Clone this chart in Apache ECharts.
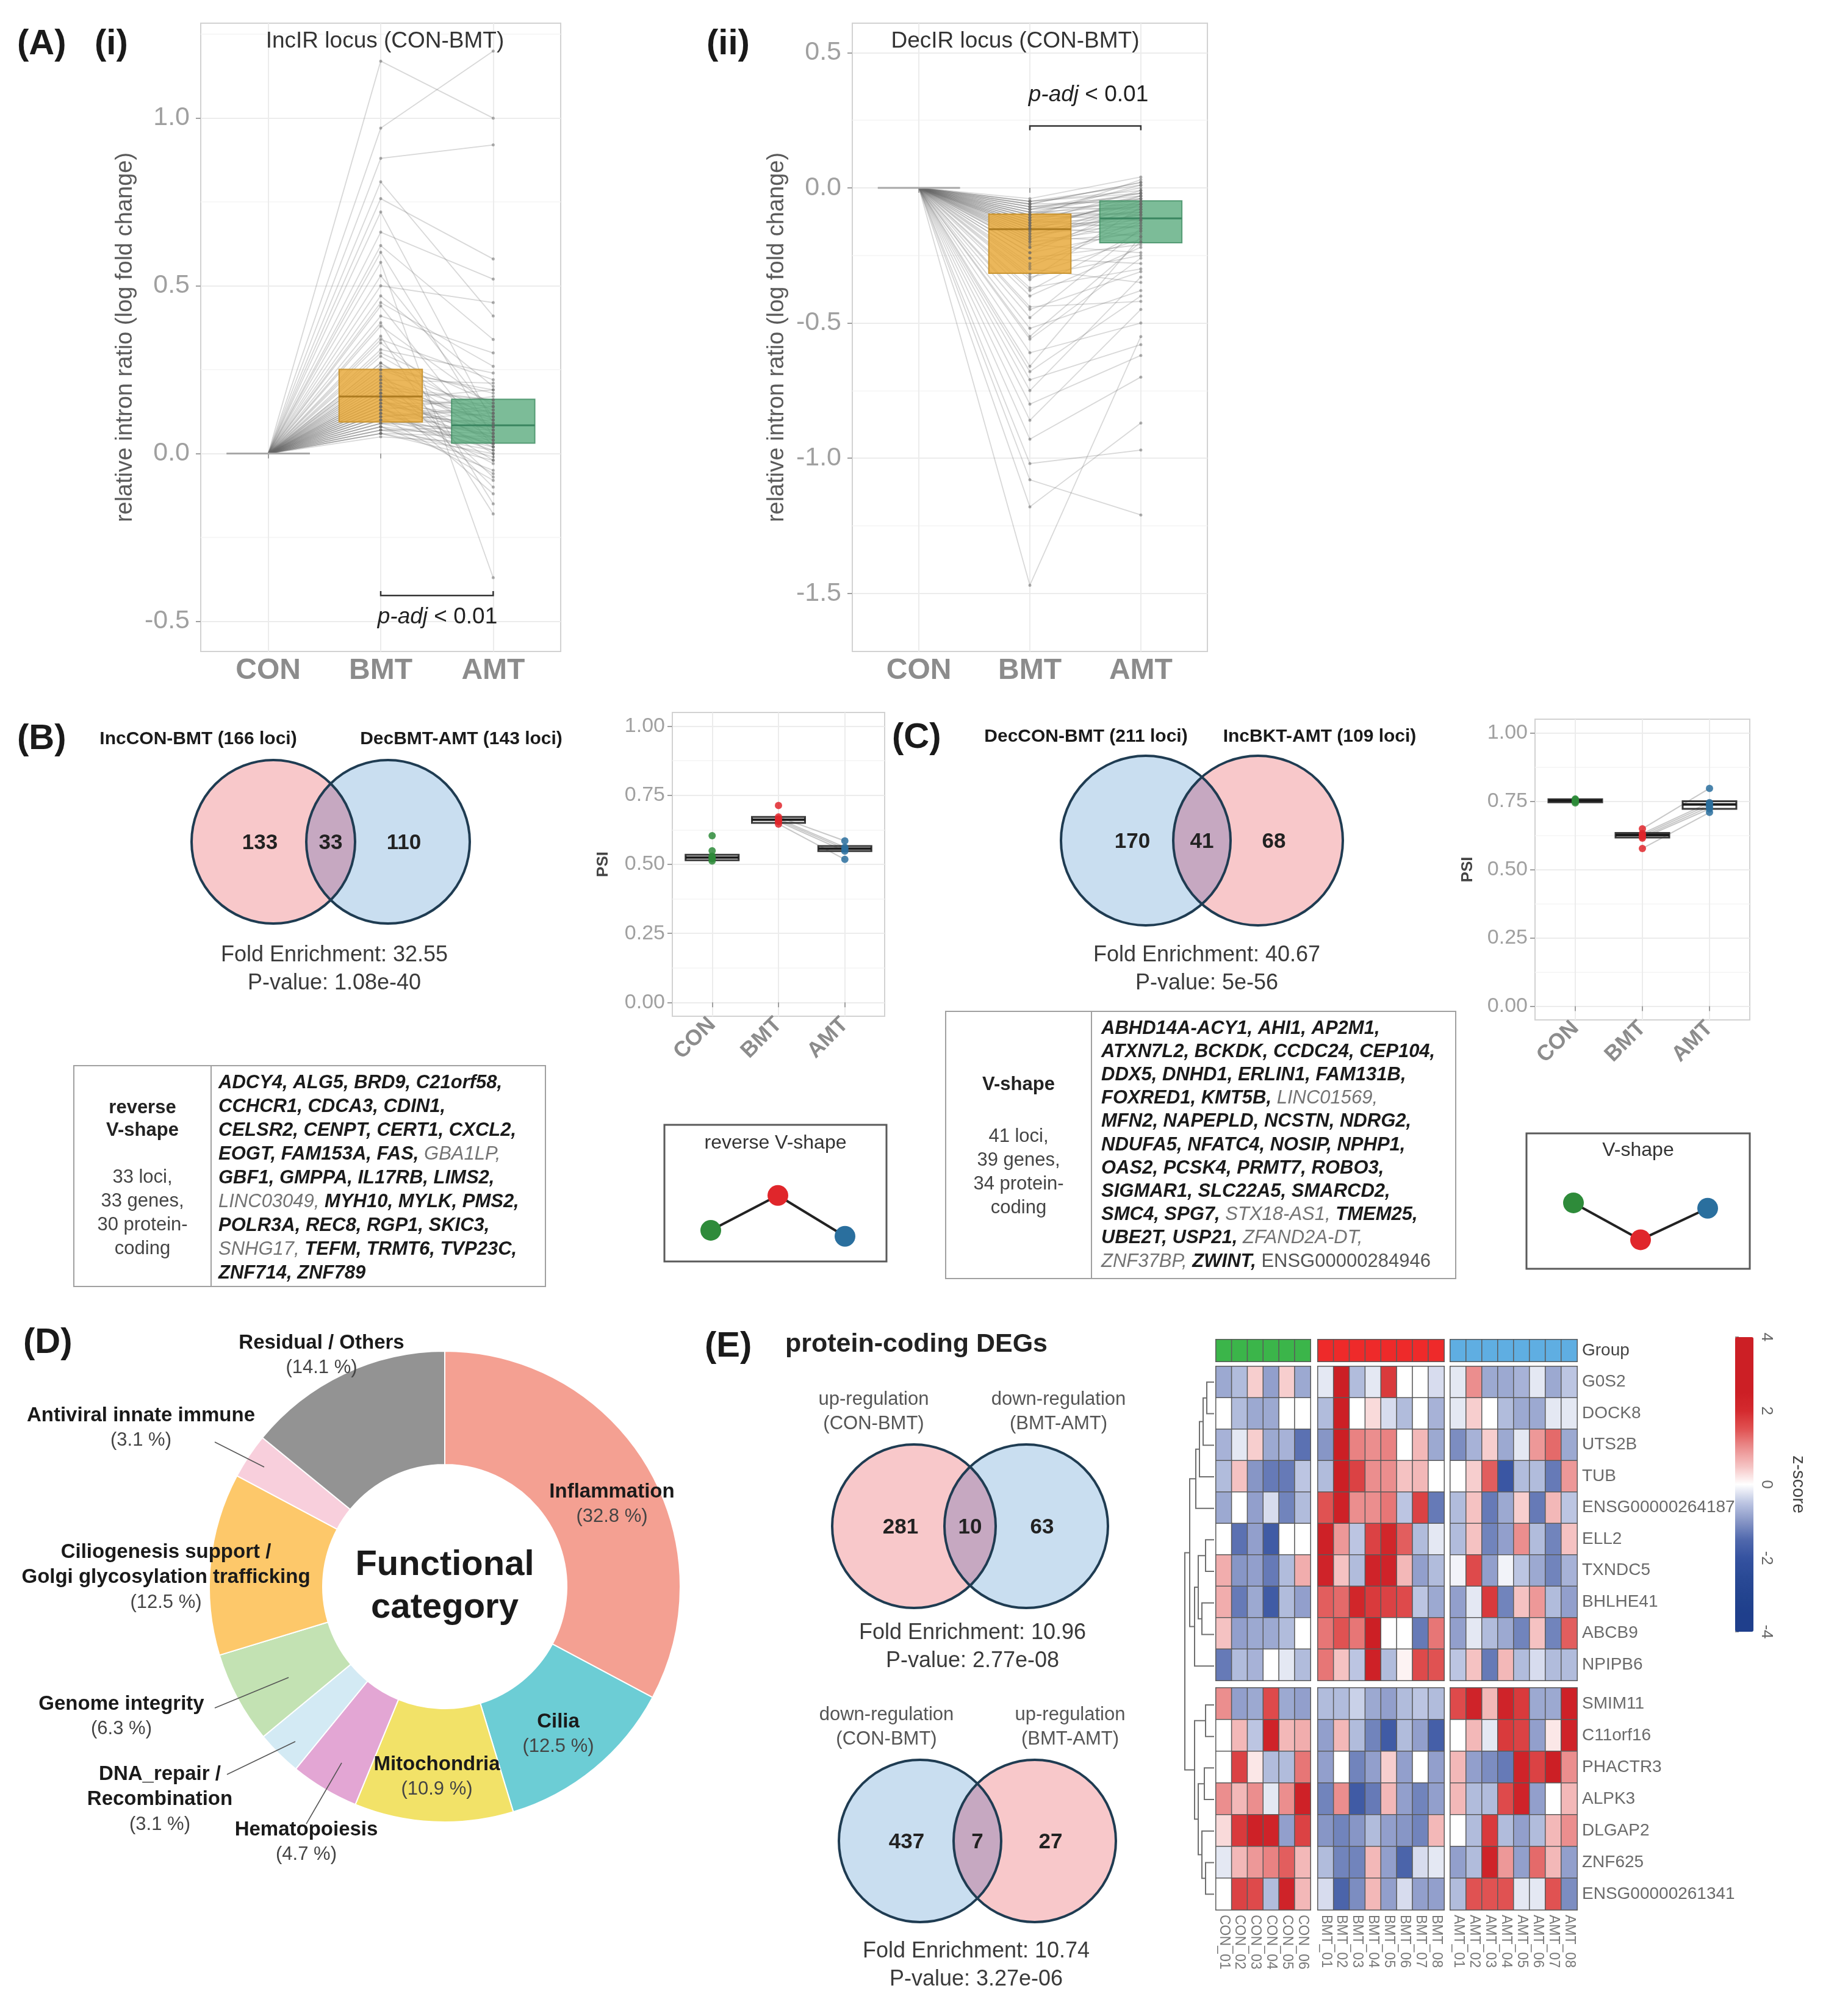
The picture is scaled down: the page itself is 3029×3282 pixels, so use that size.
<!DOCTYPE html>
<html>
<head>
<meta charset="utf-8">
<title>IR loci figure</title>
<script src="https://cdn.jsdelivr.net/npm/echarts@6.0.0/dist/echarts.min.js"></script>
<style>
  html, body { margin: 0; padding: 0; background: #fff; }
  #chart { width: 3029px; height: 3282px; }
</style>
</head>
<body>
<div id="chart"></div>
<script>
const FONT = 'Liberation Sans, Arial, Helvetica, sans-serif';
const groups = ['CON', 'BMT', 'AMT'];

// (A)(i) IncIR loci: relative intron ratio at BMT and AMT (CON = 0)
const incBMT = [0.05, 0.06, 0.06, 0.07, 0.07, 0.08, 0.08, 0.09, 0.09, 0.10,
  0.10, 0.11, 0.11, 0.12, 0.12, 0.13, 0.13, 0.14, 0.14, 0.15,
  0.15, 0.16, 0.16, 0.17, 0.17, 0.18, 0.18, 0.19, 0.20, 0.21,
  0.22, 0.23, 0.24, 0.25, 0.26, 0.27, 0.29, 0.31, 0.33, 0.35,
  0.38, 0.41, 0.44, 0.47, 0.50, 0.53, 0.57, 0.62, 0.66, 0.72,
  0.76, 0.81, 0.88, 0.97, 1.17,
  0.06, 0.07, 0.08, 0.09, 0.10, 0.11, 0.12, 0.13, 0.14, 0.15,
  0.16, 0.17, 0.18, 0.19, 0.20, 0.21, 0.22, 0.23, 0.25, 0.27,
  0.30, 0.34, 0.39, 0.45, 0.60];
const incAMT = [0.03, -0.02, 0.05, 0.01, 0.08, 0.04, -0.05, 0.10, 0.02, 0.12,
  0.06, -0.08, 0.14, 0.03, 0.09, 0.17, 0.05, -0.03, 0.11, 0.07,
  0.15, 0.02, 0.19, 0.08, -0.12, 0.12, 0.04, 0.16, 0.00, 0.09,
  0.21, 0.06, -0.07, 0.13, 0.18, 0.04, 0.10, 0.24, 0.07, -0.18,
  0.14, 0.30, 0.02, 0.20, 0.45, 0.11, -0.37, 0.34, 0.52, 0.09,
  0.58, 0.41, 0.92, 1.20, 1.00,
  0.00, 0.06, -0.01, 0.07, 0.03, 0.13, 0.01, 0.08, -0.06, 0.11,
  0.05, 0.14, -0.02, 0.10, 0.16, 0.03, 0.12, -0.10, 0.19, 0.08,
  0.15, 0.22, -0.15, 0.26, 0.05];
// box stats [x, q1, median, q3]
const incBox = [[1, 0, 0, 0], [2, 0.094, 0.170, 0.251], [3, 0.031, 0.084, 0.162]];

// (A)(ii) DecIR loci
const decBMT = [-0.04, -0.05, -0.05, -0.06, -0.06, -0.07, -0.07, -0.08, -0.08, -0.09,
  -0.09, -0.10, -0.10, -0.11, -0.11, -0.12, -0.12, -0.13, -0.13, -0.14,
  -0.14, -0.15, -0.15, -0.16, -0.17, -0.18, -0.19, -0.20, -0.21, -0.22,
  -0.24, -0.26, -0.28, -0.30, -0.32, -0.34, -0.37, -0.40, -0.44, -0.48,
  -0.52, -0.56, -0.61, -0.66, -0.71, -0.75, -0.80, -0.86, -0.93, -1.02,
  -1.08, -1.18, -1.47,
  -0.05, -0.06, -0.07, -0.08, -0.09, -0.10, -0.11, -0.12, -0.13, -0.14,
  -0.15, -0.16, -0.17, -0.18, -0.19, -0.20, -0.22, -0.24, -0.26, -0.29,
  -0.33, -0.38, -0.45, -0.55, -0.68];
const decAMT = [0.04, -0.02, 0.01, -0.05, 0.02, -0.03, -0.08, 0.00, -0.06, -0.10,
  -0.02, -0.04, -0.12, -0.07, 0.03, -0.09, -0.15, -0.01, -0.11, -0.05,
  -0.18, -0.08, -0.13, -0.03, -0.10, -0.20, -0.06, -0.14, -0.24, -0.09,
  -0.16, -0.28, -0.12, -0.35, -0.19, -0.07, -0.30, -0.22, -0.42, -0.15,
  -0.38, -0.26, -0.50, -0.18, -0.58, -0.33, -0.62, -0.45, -0.70, -0.97,
  -1.21, -0.87, -0.55,
  -0.01, 0.02, -0.04, -0.02, -0.07, 0.01, -0.09, -0.03, -0.06, -0.12,
  -0.04, -0.10, -0.14, -0.05, -0.08, -0.17, -0.11, -0.06, -0.21, -0.13,
  -0.25, -0.16, -0.31, -0.20, -0.40];
const decBox = [[1, 0, 0, 0], [2, -0.316, -0.153, -0.097], [3, -0.203, -0.113, -0.048]];

// (B) reverse V-shape example locus, PSI per sample
const revCON = [0.512, 0.520, 0.525, 0.530, 0.549, 0.604];
const revBMT = [0.646, 0.655, 0.660, 0.665, 0.672, 0.713];
const revAMT = [0.518, 0.548, 0.556, 0.562, 0.585];
const revBox = [[1, 0.515, 0.525, 0.535], [2, 0.650, 0.662, 0.672], [3, 0.548, 0.557, 0.566]];
// (C) V-shape example locus
const vCON = [0.744, 0.748, 0.750, 0.753, 0.756, 0.758];
const vBMT = [0.577, 0.615, 0.620, 0.626, 0.632, 0.649];
const vAMT = [0.709, 0.722, 0.730, 0.738, 0.745, 0.797];
const vBox = [[1, 0.746, 0.752, 0.757], [2, 0.617, 0.626, 0.634], [3, 0.722, 0.738, 0.750]];
// pattern sketches
const revShape = [0.21, 0.73, 0.12];
const vShape = [0.71, 0.16, 0.63];

// Venn counts [left only, overlap, right only]
const vennBSets = ['IncCON-BMT (166 loci)', 'DecBMT-AMT (143 loci)'];
const vennBCounts = [133, 33, 110];
const vennBStats = ['32.55', '1.08e-40'];
const vennCSets = ['DecCON-BMT (211 loci)', 'IncBKT-AMT (109 loci)'];
const vennCCounts = [170, 41, 68];
const vennCStats = ['40.67', '5e-56'];
const vennE1Sets = [['up-regulation', '(CON-BMT)'], ['down-regulation', '(BMT-AMT)']];
const vennE1Counts = [281, 10, 63];
const vennE1Stats = ['10.96', '2.77e-08'];
const vennE2Sets = [['down-regulation', '(CON-BMT)'], ['up-regulation', '(BMT-AMT)']];
const vennE2Counts = [437, 7, 27];
const vennE2Stats = ['10.74', '3.27e-06'];

// gene tables
const tableB = [
  ['ADCY4', 'ALG5', 'BRD9', 'C21orf58'],
  ['CCHCR1', 'CDCA3', 'CDIN1'],
  ['CELSR2', 'CENPT', 'CERT1', 'CXCL2'],
  ['EOGT', 'FAM153A', 'FAS', 'GBA1LP'],
  ['GBF1', 'GMPPA', 'IL17RB', 'LIMS2'],
  ['LINC03049', 'MYH10', 'MYLK', 'PMS2'],
  ['POLR3A', 'REC8', 'RGP1', 'SKIC3'],
  ['SNHG17', 'TEFM', 'TRMT6', 'TVP23C'],
  ['ZNF714', 'ZNF789']
];
const lncB = ['GBA1LP', 'LINC03049', 'SNHG17'];
const tableBInfo = ['33 loci,', '33 genes,', '30 protein-', 'coding'];
const tableC = [
  ['ABHD14A-ACY1', 'AHI1', 'AP2M1'],
  ['ATXN7L2', 'BCKDK', 'CCDC24', 'CEP104'],
  ['DDX5', 'DNHD1', 'ERLIN1', 'FAM131B'],
  ['FOXRED1', 'KMT5B', 'LINC01569'],
  ['MFN2', 'NAPEPLD', 'NCSTN', 'NDRG2'],
  ['NDUFA5', 'NFATC4', 'NOSIP', 'NPHP1'],
  ['OAS2', 'PCSK4', 'PRMT7', 'ROBO3'],
  ['SIGMAR1', 'SLC22A5', 'SMARCD2'],
  ['SMC4', 'SPG7', 'STX18-AS1', 'TMEM25'],
  ['UBE2T', 'USP21', 'ZFAND2A-DT'],
  ['ZNF37BP', 'ZWINT', 'ENSG00000284946']
];
const lncC = ['LINC01569', 'STX18-AS1', 'ZFAND2A-DT', 'ZNF37BP'];
const tableCInfo = ['41 loci,', '39 genes,', '34 protein-', 'coding'];

// (D) functional categories (%)
const funcNames = ['Inflammation', 'Cilia', 'Mitochondria', 'Hematopoiesis', 'DNA_repair /\nRecombination',
  'Genome integrity', 'Ciliogenesis support /\nGolgi glycosylation trafficking', 'Antiviral innate immune', 'Residual / Others'];
const funcPct = [32.8, 12.5, 10.9, 4.7, 3.1, 6.3, 12.5, 3.1, 14.1];
const funcColors = ['#f4a092', '#6ccdd5', '#f2e268', '#e3a6d4', '#d3eaf4', '#c3e2b3', '#fdc86a', '#f8cfdc', '#939393'];

// (E) heatmap, z-scores; columns = 6 CON | 8 BMT | 8 AMT
const sampCON = ['CON_01', 'CON_02', 'CON_03', 'CON_04', 'CON_05', 'CON_06'];
const sampBMT = ['BMT_01', 'BMT_02', 'BMT_03', 'BMT_04', 'BMT_05', 'BMT_06', 'BMT_07', 'BMT_08'];
const sampAMT = ['AMT_01', 'AMT_02', 'AMT_03', 'AMT_04', 'AMT_05', 'AMT_06', 'AMT_07', 'AMT_08'];
const genesUpper = ['G0S2', 'DOCK8', 'UTS2B', 'TUB', 'ENSG00000264187', 'ELL2', 'TXNDC5', 'BHLHE41', 'ABCB9', 'NPIPB6'];
const genesLower = ['SMIM11', 'C11orf16', 'PHACTR3', 'ALPK3', 'DLGAP2', 'ZNF625', 'ENSG00000261341'];
const zUpper = [
  [-0.8, -0.6, 0.4, -0.9, 0.4, -0.8, -0.2, 2.6, -0.6, -0.2, 1.8, 0, 0, -0.3, -0.2, 1.0, -0.8, -0.8, -0.7, -0.2, -0.8, -0.5],
  [0, -0.6, -0.8, -0.8, 0, 0, -0.6, 2.6, 0, 0.3, -0.3, -0.6, 0, -0.7, -0.2, 0.4, 0, -0.6, -0.8, -0.8, -0.2, -0.2],
  [-0.7, -0.2, 0.4, -0.8, -0.7, -1.4, -1.0, 2.6, 1.1, 1.0, 1.1, 0, 0.6, -0.8, -1.1, -0.7, 0.4, -0.8, -0.2, 0.9, 1.3, -0.8],
  [-0.6, 0.5, -1.0, -1.3, -1.3, -0.5, -0.6, 2.5, 1.7, 1.0, 1.0, 0.5, 0.6, 0, 0, 0.4, 1.4, -1.9, -0.6, -0.6, -1.3, 0.9],
  [-0.8, 0, -0.9, -0.3, -1.2, -0.6, 1.5, 2.4, 1.0, 1.0, 1.2, -0.5, 1.7, -1.3, -0.6, 0.5, -1.3, -0.8, 0.4, -1.3, 0.6, -0.5],
  [0, -1.4, -0.9, -1.8, 0, 0, 2.4, 0.9, -0.5, 1.7, 2.2, 1.4, -0.6, -0.2, -0.6, 0.5, -1.2, -0.9, 1.0, -0.6, -1.2, 0.5],
  [0.7, -1.0, -0.9, -1.3, -0.6, 0.7, 2.3, 0.5, -0.6, 2.3, 2.3, 0.6, -0.9, -0.6, -0.1, 1.6, -0.9, -0.1, -0.5, -0.8, -1.2, -0.7],
  [0.7, -1.3, -0.8, -1.8, -0.6, -0.9, 1.4, 1.3, 2.2, 1.8, 1.7, 1.6, -0.5, -0.8, -0.9, -0.2, 1.8, -1.2, 0.5, 0.9, -0.6, -0.9],
  [0.5, -0.9, -0.8, -0.8, -0.6, 0, 1.2, 1.5, 1.2, 2.5, 0, 0, -1.3, 1.2, -0.9, -0.2, -0.6, -0.8, -1.2, 0.5, -1.2, 1.4],
  [-1.3, -0.6, -0.7, 0, -0.2, -0.6, 1.2, 0.5, -0.5, 2.4, -0.6, 0.1, 1.6, 1.5, -0.5, 0.5, -1.3, 0.6, -0.6, -0.3, -0.6, -0.6]
];
const zLower = [
  [1.0, -0.9, -0.8, 1.6, -0.8, -0.9, -0.6, -0.6, -0.4, -0.8, -0.9, -0.6, -0.5, -0.6, 1.6, 2.3, 0.6, 2.3, 1.8, -0.8, -0.8, 2.4],
  [0, 0.6, -0.5, 2.3, 0.6, 0.7, -0.9, 0.6, -0.6, -1.2, -1.8, -0.6, -0.9, -1.7, 0, 0.6, -0.2, 1.8, 1.7, -0.9, 0.2, 2.3],
  [0, 1.7, 0.2, -0.6, -0.6, 1.2, -0.9, 0, -1.2, -0.9, 0.4, -0.9, 0, -0.9, 0.6, -0.9, -1.1, -1.3, 2.3, 1.7, 2.5, 1.0],
  [1.0, 0.6, 1.0, -0.2, 1.0, 2.4, -1.2, 1.0, -1.8, -1.3, 0.6, -0.9, -1.2, -0.9, 0.6, -0.6, -0.6, 1.6, 2.3, -0.9, 0, 0.6],
  [0.3, 1.8, 2.4, 2.3, -0.9, 1.7, -1.0, -1.2, -1.0, -0.6, -0.9, -1.0, -1.2, 0.6, 0, -0.6, 1.8, -0.6, -0.9, -0.6, 0.6, 1.0],
  [-0.2, 0.6, 0.9, 1.1, 1.4, 0.6, -0.6, -1.2, -1.2, 0.6, -0.9, -1.6, -0.3, -0.2, -0.9, -0.6, 2.3, 0.9, -0.9, 1.3, 0.6, -0.9],
  [0, 1.7, 1.6, -0.6, 2.3, 0.6, -0.3, -1.6, -1.1, 0.6, -0.9, -0.3, -0.9, -0.9, -0.6, 1.5, 1.5, 1.5, -0.2, -0.2, 1.5, -1.1]
];
// row dendrogram (hclust style merge: negative = leaf, positive = earlier merge), [a, b, height]
const treeMerge = [
  [-1, -2, 0.30], [1, -3, 0.45], [2, -4, 0.60], [-6, -7, 0.35], [-8, -9, 0.50],
  [3, -5, 0.75], [4, 5, 0.65], [7, -10, 0.80], [6, 8, 1.00],
  [-11, -12, 0.35], [-13, -14, 0.40], [-16, -17, 0.35], [-15, 12, 0.50],
  [11, 13, 0.65], [10, 14, 0.80], [9, 15, 1.20]
];
const heatColors = ['#1f3f8c', '#1f3f8c', '#23448f', '#2a4a96', '#3552a0', '#5068ad', '#8796c6', '#bcc5e2', '#ffffff',
  '#f5c2c2', '#eb8e8e', '#e05252', '#d42a2e', '#cc1f25', '#cc1f25', '#cc1f25', '#cc1f25'];
const groupColors = ['#3bb54a', '#ee2a2a', '#5faee2'];
const dotColors = ['#2e8b3a', '#e0262b', '#2a6f9e'];

// ---------------------------------------------------------------
const chart = echarts.init(document.getElementById('chart'));
const grids = [], xAxes = [], yAxes = [], series = [], graphics = [];

function addGrid(left, top, width, height, panel) {
  const g = { left, top, width, height, outerBoundsMode: 'none' };
  if (panel) Object.assign(g, { show: true, borderColor: '#d2d2d2', borderWidth: 2, backgroundColor: 'transparent' });
  grids.push(g);
  return grids.length - 1;
}
function addX(o) { xAxes.push(o); return xAxes.length - 1; }
function addY(o) { yAxes.push(o); return yAxes.length - 1; }

function ggX(gridIndex, fontSize, rotate) {
  return addX({
    type: 'value', gridIndex, min: 0.4, max: 3.6,
    axisLine: { show: false },
    axisTick: { show: true, customValues: [1, 2, 3], length: 8, lineStyle: { color: '#a0a0a0', width: 2 } },
    axisLabel: { customValues: [1, 2, 3], formatter: v => groups[Math.round(v) - 1], color: '#8c8c8c',
      fontSize, fontWeight: 'bold', rotate, margin: 8, fontFamily: FONT },
    splitLine: { show: true, lineStyle: { color: '#ececec', width: 2 } }
  });
}
function ggY(gridIndex, min, max, major, minor, fontSize, dec, margin, name, nameGap, nameStyle) {
  const i = addY({
    type: 'value', gridIndex, min, max, position: 'left',
    axisLine: { show: false },
    axisTick: { show: true, customValues: major, length: 8, lineStyle: { color: '#a0a0a0', width: 2 } },
    axisLabel: { customValues: major, formatter: v => v.toFixed(dec), color: '#a0a0a0', fontSize, margin, fontFamily: FONT },
    splitLine: { show: true, lineStyle: { color: '#ececec', width: 2 } },
    name, nameLocation: 'middle', nameGap, nameRotate: 90,
    nameTextStyle: Object.assign({ fontFamily: FONT }, nameStyle)
  });
  addY({
    type: 'value', gridIndex, min, max, position: 'left',
    axisLine: { show: false }, axisTick: { show: false, customValues: minor },
    axisLabel: { show: false, customValues: minor },
    splitLine: { show: true, lineStyle: { color: '#f5f5f5', width: 1.5 } }
  });
  return i;
}

function boxSeries(xi, yi, stats, halfW, fills, strokes, meds, lw) {
  return {
    type: 'custom', xAxisIndex: xi, yAxisIndex: yi, z: 4, silent: true, data: stats,
    encode: { x: 0, y: [1, 2, 3] },
    renderItem(params, api) {
      const i = params.dataIndex, x = api.value(0);
      const tl = api.coord([x - halfW, api.value(3)]);
      const br = api.coord([x + halfW, api.value(1)]);
      const m1 = api.coord([x - halfW, api.value(2)]);
      const m2 = api.coord([x + halfW, api.value(2)]);
      return { type: 'group', children: [
        { type: 'rect', shape: { x: tl[0], y: tl[1], width: br[0] - tl[0], height: br[1] - tl[1] },
          style: { fill: fills[i], stroke: strokes[i], lineWidth: lw } },
        { type: 'line', shape: { x1: m1[0], y1: m1[1], x2: m2[0], y2: m2[1] },
          style: { stroke: meds[i], lineWidth: lw + 1 } }
      ] };
    }
  };
}
function pairLines(xi, yi, bmt, amt, fromCon, style) {
  const n = Math.min(bmt.length, amt.length), data = [];
  for (let i = 0; i < n; i++) {
    data.push({ coords: fromCon ? [[1, 0], [2, bmt[i]], [3, amt[i]]] : [[2, bmt[i]], [3, amt[i]]] });
  }
  return { type: 'lines', coordinateSystem: 'cartesian2d', xAxisIndex: xi, yAxisIndex: yi,
    polyline: true, silent: true, z: 2, lineStyle: style, data };
}
function dots(xi, yi, x, vals, color, size, opacity) {
  return { type: 'scatter', xAxisIndex: xi, yAxisIndex: yi, silent: true, z: 5, symbolSize: size,
    itemStyle: { color, opacity }, data: vals.map(v => [x, v]) };
}
function txt(x, y, text, o) {
  return { type: 'text', x, y, silent: true, z: 50,
    style: Object.assign({ text, fontFamily: FONT, fontSize: 28, fill: '#222', align: 'center', verticalAlign: 'middle' }, o || {}) };
}
const LETTER = { fontSize: 58, fontWeight: 'bold', align: 'left', fill: '#1a1a1a' };

// ---------------- (A) ----------------
const A_NAME = 'relative intron ratio (log fold change)';
const aNameStyle = { fontSize: 38, color: '#5a5a5a' };
const aFills = ['rgba(0,0,0,0)', 'rgba(230,165,50,0.8)', 'rgba(80,165,118,0.75)'];
const aStrokes = ['#a8a8a8', '#c99532', 'rgba(62,140,98,0.8)'];
const aMeds = ['#a8a8a8', '#ad7b20', '#3a8560'];
const lineStyleA = { color: '#6a6a6a', opacity: 0.26, width: 1.8 };

[[329, incBMT, incAMT, incBox, -0.59, 1.283, [-0.5, 0, 0.5, 1], [-0.25, 0.25, 0.75, 1.25], [-0.41, -0.423]],
 [1397, decBMT, decAMT, decBox, -1.715, 0.609, [-1.5, -1, -0.5, 0, 0.5], [-1.25, -0.75, -0.25, 0.25], [0.213, 0.229]]
].forEach(([left, bmt, amt, box, mn, mx, major, minor, br]) => {
  const g = addGrid(left, 38, left === 329 ? 590 : 582, 1030, true);
  const xi = ggX(g, 48, 0);
  const yi = ggY(g, mn, mx, major, minor, 43, 1, 18, A_NAME, 104, aNameStyle);
  series.push(pairLines(xi, yi, bmt, amt, true, lineStyleA));
  series.push(dots(xi, yi, 2, bmt, '#666', 5, 0.5));
  series.push(dots(xi, yi, 3, amt, '#666', 5, 0.5));
  series.push(boxSeries(xi, yi, box, 0.37, aFills, aStrokes, aMeds, 2));
  series.push({ type: 'lines', coordinateSystem: 'cartesian2d', xAxisIndex: xi, yAxisIndex: yi, polyline: true,
    silent: true, z: 6, lineStyle: { color: '#333', width: 2.5, opacity: 1 },
    data: [{ coords: [[2, br[0]], [2, br[1]], [3, br[1]], [3, br[0]]] }] });
});
graphics.push(txt(28, 73, '(A)', LETTER));
graphics.push(txt(155, 73, '(i)', LETTER));
graphics.push(txt(1158, 73, '(ii)', LETTER));
graphics.push(txt(631, 68, 'IncIR locus (CON-BMT)', { fontSize: 37, fill: '#333' }));
graphics.push(txt(1664, 68, 'DecIR locus (CON-BMT)', { fontSize: 37, fill: '#333' }));
const padjRich = { i: { fontStyle: 'italic', fontSize: 37, fill: '#222', fontFamily: FONT } };
graphics.push(txt(717, 1012, '{i|p-adj} < 0.01', { fontSize: 37, rich: padjRich }));
graphics.push(txt(1784, 156, '{i|p-adj} < 0.01', { fontSize: 37, rich: padjRich }));

// ---------------- (B)/(C) small PSI plots ----------------
const psiNameStyle = { fontSize: 26, fontWeight: 'bold', color: '#444' };
const sFills = ['rgba(0,0,0,0)', 'rgba(0,0,0,0)', 'rgba(0,0,0,0)'];
const sStrokes = ['#3a3a3a', '#3a3a3a', '#3a3a3a'];
const sMeds = ['#1a1a1a', '#1a1a1a', '#1a1a1a'];
[[1102, 1168, 348, 498, revCON, revBMT, revAMT, revBox, 100], [2516, 1179, 352, 493, vCON, vBMT, vAMT, vBox, 97]]
  .forEach(([l, t, w, h, c, b, a, box, gap]) => {
    const g = addGrid(l, t, w, h, true);
    const xi = ggX(g, 36, 45);
    const yi = ggY(g, -0.05, 1.05, [0, 0.25, 0.5, 0.75, 1], [0.125, 0.375, 0.625, 0.875], 34, 2, 12, 'PSI', gap, psiNameStyle);
    series.push(pairLines(xi, yi, b, a, false, { color: '#9a9a9a', opacity: 0.55, width: 2 }));
    series.push(boxSeries(xi, yi, box, 0.4, sFills, sStrokes, sMeds, 3));
    series.push(dots(xi, yi, 1, c, dotColors[0], 12, 0.85));
    series.push(dots(xi, yi, 2, b, dotColors[1], 12, 0.85));
    series.push(dots(xi, yi, 3, a, dotColors[2], 12, 0.85));
  });

// pattern sketches
[[1110, 1930, revShape, 1089, 1844, 364, 224, 'reverse V-shape', 1874], [2524, 1940, vShape, 2502, 1858, 366, 222, 'V-shape', 1886]]
  .forEach(([l, t, vals, bx, by, bw, bh, title, ty]) => {
    const g = addGrid(l, t, 330, 110, false);
    const xi = addX({ type: 'category', gridIndex: g, data: groups, show: false });
    const yi = addY({ type: 'value', gridIndex: g, min: 0, max: 1, show: false });
    series.push({ type: 'line', xAxisIndex: xi, yAxisIndex: yi, silent: true, symbol: 'circle', symbolSize: 34,
      lineStyle: { color: '#222', width: 4 }, z: 5,
      data: vals.map((v, i) => ({ value: v, itemStyle: { color: dotColors[i], borderWidth: 0 } })) });
    graphics.push({ type: 'rect', silent: true, shape: { x: bx, y: by, width: bw, height: bh },
      style: { fill: 'none', stroke: '#5a5a5a', lineWidth: 3 } });
    graphics.push(txt(bx + bw / 2, ty, title, { fontSize: 32, fill: '#333' }));
  });

// ---------------- Venn diagrams ----------------
const PINK = '#f8c8ca', BLUE = '#c9def0', LENS = '#c6a8c1', EDGE = '#1f3c52';
function venn(c1, c2, cy, r, leftFill, rightFill, counts) {
  graphics.push({ type: 'circle', silent: true, shape: { cx: c1, cy, r }, style: { fill: leftFill } });
  graphics.push({ type: 'circle', silent: true, shape: { cx: c2, cy, r }, style: { fill: rightFill } });
  const a = Math.acos((c2 - c1) / 2 / r), pts = [];
  for (let k = 0; k <= 40; k++) { const t = -a + 2 * a * k / 40; pts.push([c1 + r * Math.cos(t), cy + r * Math.sin(t)]); }
  for (let k = 0; k <= 40; k++) { const t = Math.PI - a + 2 * a * k / 40; pts.push([c2 + r * Math.cos(t), cy + r * Math.sin(t)]); }
  graphics.push({ type: 'polygon', silent: true, shape: { points: pts }, style: { fill: LENS } });
  [c1, c2].forEach(cx => graphics.push({ type: 'circle', silent: true, shape: { cx, cy, r },
    style: { fill: 'none', stroke: EDGE, lineWidth: 4 } }));
  const xs = [c1 - 22, (c1 + c2) / 2, c2 + 26];
  counts.forEach((n, i) => graphics.push(txt(xs[i], cy + 2, String(n), { fontSize: 35, fontWeight: 'bold', fill: '#222' })));
}
function vennStats(cx, y, stats) {
  graphics.push(txt(cx, y, 'Fold Enrichment: ' + stats[0], { fontSize: 36, fill: '#3a3a3a' }));
  graphics.push(txt(cx, y + 46, 'P-value: ' + stats[1], { fontSize: 36, fill: '#3a3a3a' }));
}
const SETT = { fontSize: 30, fontWeight: 'bold', fill: '#1a1a1a' };
venn(448, 636, 1380, 134, PINK, BLUE, vennBCounts);
vennStats(548, 1566, vennBStats);
graphics.push(txt(325, 1212, vennBSets[0], SETT));
graphics.push(txt(756, 1212, vennBSets[1], SETT));
graphics.push(txt(28, 1212, '(B)', LETTER));

venn(1878, 2062, 1378, 139, BLUE, PINK, vennCCounts);
vennStats(1978, 1566, vennCStats);
graphics.push(txt(1780, 1208, vennCSets[0], SETT));
graphics.push(txt(2163, 1208, vennCSets[1], SETT));
graphics.push(txt(1462, 1210, '(C)', LETTER));

venn(1498, 1682, 2502, 134, PINK, BLUE, vennE1Counts);
vennStats(1594, 2677, vennE1Stats);
venn(1508, 1696, 3018, 133, BLUE, PINK, vennE2Counts);
vennStats(1600, 3199, vennE2Stats);
[[vennE1Sets, [1432, 1735], 2294], [vennE2Sets, [1453, 1754], 2811]].forEach(([sets, xs, y]) => {
  sets.forEach((s, i) => {
    graphics.push(txt(xs[i], y, s[0], { fontSize: 31, fill: '#555' }));
    graphics.push(txt(xs[i], y + 40, s[1], { fontSize: 31, fill: '#555' }));
  });
});
graphics.push(txt(1155, 2208, '(E)', LETTER));
graphics.push(txt(1287, 2204, 'protein-coding DEGs', { fontSize: 43, fontWeight: 'bold', align: 'left' }));

// ---------------- gene tables ----------------
function geneTable(lines, lnc, info, title, box, divX, x0, y0, step, fs, infoY, titleY) {
  graphics.push({ type: 'rect', silent: true, shape: { x: box[0], y: box[1], width: box[2], height: box[3] },
    style: { fill: 'none', stroke: '#a0a0a0', lineWidth: 2 } });
  graphics.push({ type: 'line', silent: true, shape: { x1: divX, y1: box[1], x2: divX, y2: box[1] + box[3] },
    style: { stroke: '#a0a0a0', lineWidth: 2 } });
  const cx = (box[0] + divX) / 2;
  title.forEach((t, i) => graphics.push(txt(cx, titleY + i * 37, t, { fontSize: 31, fontWeight: 'bold', fill: '#222' })));
  info.forEach((t, i) => graphics.push(txt(cx, infoY + i * 39, t, { fontSize: 31, fill: '#444' })));
  const rich = {
    p: { fontWeight: 'bold', fontStyle: 'italic', fill: '#1a1a1a', fontSize: fs, fontFamily: FONT },
    l: { fontStyle: 'italic', fill: '#737373', fontSize: fs, fontFamily: FONT },
    e: { fill: '#555', fontSize: fs, fontFamily: FONT }
  };
  lines.forEach((genes, li) => {
    const parts = genes.map((g, gi) => {
      const last = li === lines.length - 1 && gi === genes.length - 1;
      const tag = lnc.includes(g) ? 'l' : (g.startsWith('ENSG') ? 'e' : 'p');
      return '{' + tag + '|' + g + (last ? '' : ',') + '}';
    });
    graphics.push(txt(x0, y0 + li * step, parts.join(' '), { fontSize: fs, align: 'left', rich }));
  });
}
geneTable(tableB, lncB, tableBInfo, ['reverse', 'V-shape'], [121, 1747, 773, 362], 346, 358, 1775, 39, 31, 1930, 1816);
geneTable(tableC, lncC, tableCInfo, ['V-shape'], [1550, 1658, 836, 438], 1789, 1805, 1686, 38.2, 31, 1863, 1778);

// ---------------- (D) donut ----------------
const donutLabelXY = [[1003, 2466], [915, 2843], [716, 2913], [502, 3020], [262, 2950],
  [199, 2814], [272, 2586], [231, 2341], [527, 2222]];
series.push({
  type: 'pie', center: [729, 2601], radius: [200, 386], startAngle: 90, clockwise: true,
  avoidLabelOverlap: false, silent: true, z: 3,
  itemStyle: { borderColor: '#fff', borderWidth: 2 },
  label: {
    show: true, position: 'inside', color: '#222', fontFamily: FONT,
    formatter: p => p.name.split('\n').map(s => '{n|' + s + '}').join('\n') + '\n{p|(' + p.value.toFixed(1) + ' %)}',
    rich: {
      n: { fontWeight: 'bold', fontSize: 33, color: '#1a1a1a', lineHeight: 41, fontFamily: FONT },
      p: { fontSize: 31, color: '#444', lineHeight: 41, fontFamily: FONT }
    }
  },
  labelLine: { show: false },
  labelLayout: p => ({ x: donutLabelXY[p.dataIndex][0], y: donutLabelXY[p.dataIndex][1], align: 'center', verticalAlign: 'middle' }),
  data: funcNames.map((n, i) => ({ name: n, value: funcPct[i], itemStyle: { color: funcColors[i] } }))
});
graphics.push(txt(729, 2601, 'Functional\ncategory', { fontSize: 58, fontWeight: 'bold', fill: '#1a1a1a', lineHeight: 70 }));
graphics.push(txt(38, 2202, '(D)', LETTER));
[[352, 2364, 433, 2405], [352, 2800, 473, 2750], [372, 2909, 484, 2855], [502, 2990, 560, 2890]].forEach(l =>
  graphics.push({ type: 'line', silent: true, z: 40, shape: { x1: l[0], y1: l[1], x2: l[2], y2: l[3] },
    style: { stroke: '#555', lineWidth: 1.5 } }));

// ---------------- (E) heatmap ----------------
const blockSamples = [sampCON, sampBMT, sampAMT];
const blockLeft = [1993, 2160, 2377];
const blockWidth = [155, 207, 208];
const rowBlocks = [[genesUpper, zUpper, 2240, 515], [genesLower, zLower, 2767, 364]];
const heatIdx = [], annIdx = [];
let offset = 0;
blockSamples.forEach((samps, b) => {
  const isLast = b === blockSamples.length - 1;
  // group annotation bar
  const ga = addGrid(blockLeft[b], 2196, blockWidth[b], 36, false);
  const xa = addX({ type: 'category', gridIndex: ga, data: samps, axisLine: { show: false }, axisTick: { show: false }, axisLabel: { show: false } });
  const ya = addY({ type: 'category', gridIndex: ga, data: ['Group'], position: 'right', axisLine: { show: false }, axisTick: { show: false },
    axisLabel: { show: isLast, color: '#444', fontSize: 28, margin: 8, fontFamily: FONT } });
  annIdx.push(series.length);
  series.push({ type: 'heatmap', xAxisIndex: xa, yAxisIndex: ya, silent: true,
    itemStyle: { borderColor: '#5a5a5a', borderWidth: 1.5 }, data: samps.map((s, c) => [c, 0, b]) });
  rowBlocks.forEach(([genes, z, top, h], rb) => {
    const g = addGrid(blockLeft[b], top, blockWidth[b], h, false);
    const xi = addX({ type: 'category', gridIndex: g, data: samps, position: 'bottom',
      axisLine: { show: false }, axisTick: { show: false },
      axisLabel: { show: rb === 1, interval: 0, rotate: -90, color: '#777', fontSize: 23, margin: 8, fontFamily: FONT } });
    const yi = addY({ type: 'category', gridIndex: g, data: genes, inverse: true, position: 'right',
      axisLine: { show: false }, axisTick: { show: false },
      axisLabel: { show: isLast, interval: 0, color: '#6a6a6a', fontSize: 28, margin: 8, fontFamily: FONT } });
    const data = [];
    z.forEach((row, r) => samps.forEach((s, c) => data.push([c, r, row[offset + c]])));
    heatIdx.push(series.length);
    series.push({ type: 'heatmap', xAxisIndex: xi, yAxisIndex: yi, silent: true,
      itemStyle: { borderColor: '#5a5a5a', borderWidth: 1.5 }, data });
  });
  offset += samps.length;
});

// dendrogram
const rowGap = 12 / 51.6;
const leafY = i => (i < genesUpper.length ? i + 0.5 : genesUpper.length + rowGap + (i - genesUpper.length) + 0.5);
const treeNodes = [], treeData = [];
const nodePos = ref => (ref < 0 ? { y: leafY(-ref - 1), h: 0 } : treeNodes[ref - 1]);
treeMerge.forEach(([ra, rb, h]) => {
  const a = nodePos(ra), b = nodePos(rb);
  treeData.push({ coords: [[a.h, a.y], [h, a.y], [h, b.y], [b.h, b.y]] });
  treeNodes.push({ y: (a.y + b.y) / 2, h });
});
const gT = addGrid(1942, 2240, 48, 891, false);
const xT = addX({ type: 'value', gridIndex: gT, min: 0, max: 1.2, inverse: true, show: false });
const yT = addY({ type: 'value', gridIndex: gT, min: 0, max: genesUpper.length + genesLower.length + rowGap, inverse: true, show: false });
series.push({ type: 'lines', coordinateSystem: 'cartesian2d', xAxisIndex: xT, yAxisIndex: yT, polyline: true, silent: true,
  lineStyle: { color: '#6e6e6e', width: 2, opacity: 1 }, data: treeData });

// colour bar axis
const gK = addGrid(2844, 2192, 30, 483, false);
const xK = addX({ type: 'value', gridIndex: gK, show: false, min: 0, max: 1 });
const yK = addY({ type: 'value', gridIndex: gK, min: -4, max: 4, interval: 2, position: 'right',
  axisLine: { show: false }, axisTick: { show: true, length: 6, lineStyle: { color: '#888', width: 2 } },
  splitLine: { show: false },
  axisLabel: { rotate: -90, color: '#666', fontSize: 26, margin: 8, fontFamily: FONT },
  name: 'z-score', nameLocation: 'middle', nameRotate: -90, nameGap: 58,
  nameTextStyle: { fontSize: 29, color: '#444', fontFamily: FONT } });
series.push({ type: 'scatter', xAxisIndex: xK, yAxisIndex: yK, data: [], silent: true });

chart.setOption({
  animation: false,
  backgroundColor: '#ffffff',
  textStyle: { fontFamily: FONT },
  grid: grids, xAxis: xAxes, yAxis: yAxes,
  visualMap: [
    { type: 'continuous', min: -4, max: 4, seriesIndex: heatIdx, dimension: 2, calculable: false, show: true,
      orient: 'vertical', left: 2844, top: 2192, itemWidth: 30, itemHeight: 483, padding: 0,
      inRange: { color: heatColors } },
    { type: 'piecewise', show: false, seriesIndex: annIdx, dimension: 2,
      pieces: groupColors.map((c, i) => ({ value: i, color: c })) }
  ],
  series,
  graphic: { elements: graphics }
});
</script>
</body>
</html>
